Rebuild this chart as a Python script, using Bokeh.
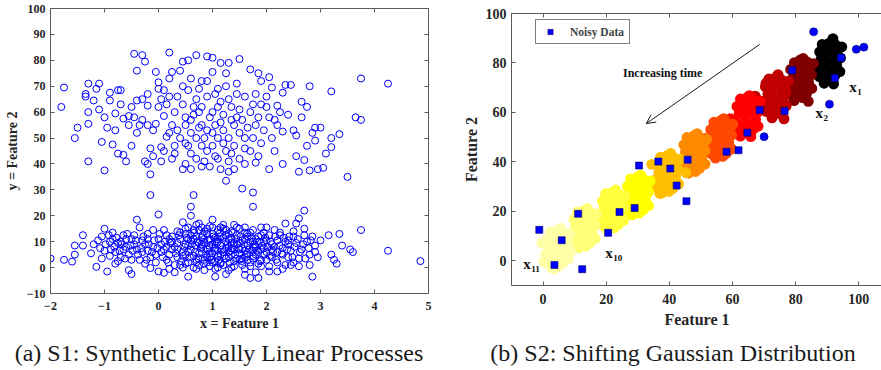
from bokeh.plotting import figure
from bokeh.models import LinearAxis, FixedTicker, Range1d, Arrow, OpenHead, Label, Legend, LegendItem, ColumnDataSource, Div
from bokeh.layouts import row, column
from bokeh.embed import file_html
from bokeh.resources import INLINE
from bokeh.core.properties import value

# ---------------- Panel (a) data ----------------
upper_pts = [
    (-1.8, 62), (-1.75, 69.5), (-1.55, 50), (-1.5, 54), (-1.35, 67), (-1.35, 66), (-1.3, 71), (-1.3, 60), (-1.3, 55.5), (-1.3, 41),
    (-1.2, 64.5), (-1.15, 69), (-1.1, 71), (-1.1, 61), (-1.05, 48.5), (-1.0, 58), (-1.0, 37.5), (-0.95, 54), (-0.9, 64.5), (-0.9, 67.5),
    (-0.85, 47.5), (-0.8, 59.5), (-0.8, 53), (-0.75, 68.5), (-0.7, 68.5), (-0.75, 44), (-0.7, 63), (-0.65, 43.5), (-0.65, 57.5), (-0.6, 41),
    (-0.55, 55), (-0.55, 58.5), (-0.5, 47), (-0.5, 62), (-0.45, 82.5), (-0.4, 76), (-0.4, 52), (-0.4, 64.5), (-0.35, 55), (-0.3, 82),
    (-0.25, 79.5), (-0.3, 65), (-0.3, 57), (-0.25, 41), (-0.2, 67), (-0.2, 62.5), (-0.2, 40), (-0.15, 36), (-0.15, 28), (-0.15, 46),
    (-0.1, 53), (-0.1, 43), (-0.05, 75.5), (-0.05, 55.5), (0.0, 71.5), (0.0, 69), (0.0, 62), (0.05, 65), (0.05, 46.5), (0.05, 41),
    (0.1, 58.5), (0.1, 68.5), (0.15, 63), (0.15, 50.5), (0.2, 83), (0.2, 73), (0.2, 66), (0.25, 75.5), (0.25, 55), (0.25, 42),
    (0.3, 60), (0.3, 47), (0.35, 53), (0.4, 76), (0.45, 79.5), (0.45, 70), (0.45, 63), (0.5, 55), (0.5, 48), (0.5, 40),
    (0.55, 80), (0.55, 68.5), (0.6, 73), (0.6, 52), (0.6, 44), (0.6, 38), (0.7, 82), (0.7, 65), (0.75, 60), (0.75, 54),
    (0.8, 72), (0.8, 47), (0.85, 41), (0.9, 81.5), (0.9, 72), (0.9, 66), (0.95, 58), (1.0, 81), (1.0, 75.5), (1.0, 52),
    (1.05, 43), (1.1, 69), (1.1, 62), (1.15, 79), (1.15, 56), (1.2, 48), (1.25, 75), (1.25, 33.5), (1.3, 79), (1.3, 65),
    (1.35, 57), (1.35, 44), (1.4, 38), (1.45, 71), (1.5, 80.5), (1.5, 61), (1.5, 52), (1.55, 30.5), (1.6, 66), (1.6, 46),
    (1.7, 76.5), (1.75, 29), (1.75, 63), (1.8, 55), (1.8, 40.5), (1.85, 75), (1.9, 72), (1.9, 48), (2.0, 66), (2.05, 73.5),
    (2.05, 58), (2.05, 38), (2.1, 69.5), (2.15, 45), (2.2, 62.5), (2.2, 55), (2.3, 67.5), (2.3, 52.5), (2.3, 40), (2.35, 70.5),
    (2.4, 59), (2.45, 70.5), (2.5, 53), (2.55, 43), (2.55, 51), (2.6, 37), (2.65, 64), (2.65, 58), (2.7, 41.5), (2.75, 62),
    (2.75, 47), (2.8, 70), (2.8, 37.5), (2.85, 52), (2.9, 54), (2.9, 49), (2.95, 38), (3.0, 54), (3.05, 38.5), (3.1, 44),
    (3.2, 68), (3.2, 50), (3.2, 46.5), (3.35, 51.5), (3.5, 35), (3.65, 58), (3.75, 57), (3.75, 73), (4.25, 71), (0.65, 28),
    (0.5, 58), (0.6, 57), (0.7, 50), (0.7, 42), (0.8, 55), (0.8, 62), (0.85, 50), (0.9, 45), (0.9, 53), (1.0, 60),
    (1.0, 47), (1.05, 55), (1.1, 50), (1.1, 42), (1.15, 64), (1.2, 53), (1.2, 59), (1.25, 45), (1.3, 50), (1.3, 41),
    (1.35, 62), (1.4, 55), (1.4, 47), (1.45, 67), (1.5, 42), (1.55, 57), (1.6, 50), (1.65, 54), (1.7, 60), (1.7, 45),
    (1.75, 50), (1.8, 67), (1.85, 58), (1.95, 53), (2.0, 62), (2.1, 50), (2.15, 57), (0.4, 50), (0.35, 66), (0.3, 44),
    (0.65, 62), (0.55, 47), (0.95, 39), (1.15, 38), (1.3, 37), (1.6, 40), (0.45, 38), (0.8, 39), (1.05, 67), (1.25, 70),
    (0.75, 69), (0.65, 59), (1.45, 58), (0.2, 52), (1.9, 63), (2.25, 60), (0.1, 45), (-0.2, 55), (-0.45, 58), (1.85, 43),
]

lower_pts = [
    (-2.0, 3.5), (-1.75, 3), (-1.6, 2.3), (-1.55, 8.5), (-1.55, 5), (-1.4, 12.5), (-1.4, 8.5), (-1.25, 5.5), (-1.15, 0.3), (-1.0, 15),
    (-1.05, 12), (-1.0, 6.5), (-1.05, 3.5), (-0.95, -1.5), (-0.9, 10), (-0.85, 13.5), (-0.8, 1.5), (-0.75, 9.5), (-0.7, 4), (-0.65, 7),
    (-0.6, 11), (-0.55, -1), (-0.5, 3), (-0.5, -2.5), (-0.45, 12.5), (-0.4, 18.5), (-0.35, 15.5), (-0.3, 6), (-0.25, 1.5), (-0.2, 11),
    (-0.15, -0.2), (-0.1, 14.5), (-0.05, 5), (0.0, 20.5), (0.0, -1.5), (0.05, 9), (0.1, -2), (0.1, 14.5), (0.15, 3), (0.2, 11),
    (0.25, 7), (0.3, -1.8), (0.35, 14), (0.4, 1), (0.45, 17.5), (0.5, 5), (0.55, -3.5), (0.55, 11), (0.6, 23.5), (0.6, 20),
    (0.65, 14.5), (0.7, 2), (0.75, 17), (0.8, 9), (0.85, -1), (0.9, 13), (0.95, 4), (1.0, 18.5), (1.05, -3.5), (1.1, 11),
    (1.15, 1.5), (1.2, 16.5), (1.25, -2.5), (1.3, 6), (1.35, 14), (1.4, 0.5), (1.45, 9), (1.5, 15), (1.55, 3.5), (1.6, -2.8),
    (1.65, 12), (1.7, -4), (1.75, 23.5), (1.75, 6.5), (1.8, -1.8), (1.85, -4), (1.9, 12.5), (2.0, 15.5), (2.0, 3), (2.05, -1.5),
    (2.1, 9), (2.2, -1.5), (2.25, 12.5), (2.3, 5), (2.35, 17), (2.4, 9), (2.45, 1), (2.5, 12), (2.55, 17), (2.6, 0.5),
    (2.6, 19), (2.65, 7), (2.7, 22), (2.7, 15), (2.75, 10), (2.8, 1), (2.8, 5), (2.85, -3.5), (2.85, 12), (2.9, 8.5),
    (2.95, 4), (3.0, 10.5), (3.15, 12.5), (3.2, 5), (3.25, 3), (3.3, 1.5), (3.35, 13), (3.4, 8.5), (3.55, 7), (3.6, 6),
    (3.75, 14.5), (4.25, 6.5), (4.85, 2.5),
    (0.3, 8), (0.35, 4), (0.4, 11), (0.45, 6), (0.5, 9), (0.5, 13), (0.55, 2), (0.6, 7), (0.6, 10.5), (0.65, 4.5),
    (0.7, 12), (0.7, 8.5), (0.75, 5.5), (0.75, 1), (0.8, 11.5), (0.8, 6), (0.85, 3), (0.85, 9.5), (0.9, 7), (0.9, 15),
    (0.95, 11), (0.95, 0.5), (1.0, 5.5), (1.0, 9), (1.0, 13), (1.05, 7.5), (1.05, 2.5), (1.1, 4.5), (1.1, 14.5), (1.15, 8.5),
    (1.15, 12), (1.2, 6), (1.2, 1), (1.25, 10), (1.25, 3.5), (1.3, 8), (1.3, 13), (1.35, 5), (1.35, 11), (1.4, 7),
    (1.4, 2.5), (1.45, 12.5), (1.5, 5.5), (1.5, 9.5), (1.55, 7.5), (1.55, 1), (1.6, 11), (1.6, 4), (1.65, 8.5), (1.7, 13.5),
    (1.7, 2), (1.75, 10), (1.8, 5), (1.8, 8), (1.85, 12), (1.9, 3), (1.9, 7), (1.95, 10), (2.0, 6), (2.05, 12.5),
    (2.1, 4), (2.15, 8), (2.2, 10.5), (2.2, 2), (2.3, 7.5), (2.35, 10), (2.4, 4), (0.2, 5), (0.25, 12), (0.15, 8),
    (0.05, 6), (0.0, 11), (-0.1, 8), (-0.15, 4), (-0.2, 13), (-0.25, 9), (-0.3, 10.5), (-0.35, 3), (-0.4, 7), (-0.45, 9),
    (-0.55, 5), (-0.6, 8), (-0.65, 12.5), (-0.7, 10), (-0.8, 6), (-0.85, 11), (-0.9, 4.5), (0.55, 15.5), (0.65, 0), (0.95, 16),
    (1.15, 15.5), (1.45, 15.5), (1.35, 0), (1.05, -0.5), (0.45, 0), (0.85, 14), (1.25, 14.5), (1.75, 14.5), (2.05, 0.5), (2.45, 6.5),
    (2.55, 9.5), (2.6, 3.5), (2.7, 12.5), (2.9, 6), (2.5, 14), (1.6, 6.5), (1.3, 4), (0.7, 3), (0.4, 13.5), (1.95, 13.5),
    (1.85, 1.5), (0.3, 1), (0.9, 4), (1.1, 10), (1.5, 3), (0.6, 12.5), (1.2, 11.5), (1.4, 9.5), (0.8, 8), (1.0, 2),
    (1.65, 5.5), (1.75, 3.5), (2.25, 13.5), (2.35, 1), (0.35, 9.5), (0.15, 12.5), (-0.05, 2), (0.1, 7), (-0.2, 6.5), (-0.5, 11),
    (-0.75, 2.5), (0.95, 7.5), (1.35, 7.5), (0.55, 6), (1.15, 5), (1.8, 11), (2.1, 7), (0.75, 14.5), (1.05, 11.5),
    (0.32, 5.5), (0.38, 12.5), (0.42, 2.5), (0.48, 8), (0.52, 11.5), (0.58, 4), (0.62, 9), (0.66, 13.5), (0.68, 6), (0.72, 10),
    (0.74, 3.5), (0.78, 7.5), (0.82, 12.5), (0.84, 1.5), (0.88, 5), (0.92, 10.5), (0.94, 8.5), (0.98, 3), (1.02, 12), (1.04, 6.5),
    (1.08, 9.5), (1.12, 3), (1.14, 13.5), (1.18, 7), (1.22, 4.5), (1.24, 12.5), (1.28, 9), (1.32, 2), (1.34, 6.5), (1.38, 13.5),
    (1.42, 5), (1.44, 11), (1.48, 7.5), (1.52, 12), (1.54, 2.5), (1.58, 9), (1.62, 5), (1.64, 13), (1.68, 7), (1.72, 11.5),
    (1.76, 4.5), (1.78, 9), (1.82, 6.5), (1.86, 10), (1.88, 2.5), (1.92, 8.5), (1.96, 5), (1.98, 11.5), (2.02, 8), (2.06, 4.5),
    (2.08, 10), (2.12, 6), (2.16, 12), (2.18, 3), (2.24, 8.5), (2.28, 5.5), (2.32, 11.5), (2.38, 7), (2.42, 12), (2.48, 4),
    (2.52, 8), (2.58, 11), (2.62, 6), (2.68, 9), (2.72, 3.5), (2.78, 7.5), (2.82, 10.5), (0.22, 9.5), (0.18, 2), (0.12, 10),
    (0.08, 4), (0.02, 13), (-0.02, 7.5), (-0.08, 10.5), (-0.12, 6), (-0.18, 9), (-0.22, 3), (-0.28, 12), (-0.32, 7.5), (-0.38, 5),
    (-0.42, 10.5), (-0.48, 6.5), (-0.52, 8.5), (-0.58, 13), (-0.62, 3.5), (-0.68, 9), (-0.72, 6.5), (-0.78, 11.5), (-0.82, 8), (-0.88, 7),
    (-0.92, 12.5), (-0.98, 9), (-1.08, 7.5), (-1.12, 10.5), (-1.2, 9), (0.55, 8.5), (0.65, 11), (0.85, 11), (0.95, 5.5), (1.05, 10),
    (1.15, 2), (1.25, 7.5), (1.35, 9.5), (1.45, 3.5), (1.55, 10.5), (1.65, 3), (1.75, 8), (1.85, 6), (1.95, 7.5), (0.75, 9.5),
    (0.45, 4.5), (1.1, 6.5), (1.3, 11), (1.5, 7), (1.7, 10), (0.9, 2), (1.6, 13.5), (2.0, 10.5), (0.35, 7), (0.25, 10),
    (2.2, 6), (2.4, 10.5), (1.2, 15), (0.8, 15.5), (1.6, 15.5), (2.15, 14.5), (0.5, 15), (1.0, 15.5), (1.4, 16.5), (0.7, 16.5),
    (1.9, 15.5), (1.3, -1), (0.7, -0.5), (1.6, -0.5), (2.3, -0.5), (0.2, -0.5), (1.1, 0), (1.9, 0.5), (0.5, 1.5), (1.7, 0.5),
    (2.5, 2),
]
upper_x = [p[0] for p in upper_pts]
upper_y = [p[1] for p in upper_pts]
lower_x = [p[0] for p in lower_pts]
lower_y = [p[1] for p in lower_pts]

a_xticks = [-2, -1, 0, 1, 2, 3, 4, 5]
a_yticks = [-10, 0, 10, 20, 30, 40, 50, 60, 70, 80, 90, 100]

# ---------------- Panel (b) data ----------------
s1_x = [87.5, 89, 91, 92.5, 94, 87, 89.2, 91, 93, 88, 90, 92.3, 94.2, 87.6, 89.5, 91.6, 93.4, 88.4, 90.6, 92.5, 90, 91.8, 86.8, 94.6, 92, 89]
s1_y = [74.5, 73, 73.5, 75, 76.5, 78.5, 77.5, 77, 79, 81.5, 80.5, 81.5, 82, 84.5, 84, 85, 85.5, 87.5, 88, 87.5, 75.5, 89.8, 75.5, 86.5, 71.5, 71.8]
s2_x = [78.6, 80.1, 82.2, 83.5, 85.1, 78.1, 80, 81.9, 84.1, 79.2, 81, 83.1, 85, 78.4, 80.6, 82.6, 84.4, 79.6, 81.4, 83.6, 81.2, 82.4, 77.3, 85.6, 79.5, 84]
s2_y = [67.4, 66.2, 66, 67.8, 69.7, 71.4, 70.1, 70.3, 72.1, 74.1, 73.6, 74.4, 75.2, 77.4, 77.2, 77.8, 78.2, 80.1, 81.2, 80.4, 68.6, 81.8, 68.1, 79.7, 64.8, 64.5]
s3_x = [70.6, 72.2, 74.1, 75.6, 77, 70.2, 72.1, 74.1, 76.1, 71.2, 73, 75.3, 76.9, 70.4, 72.7, 74.5, 76.8, 71.5, 73.7, 75.4, 73.1, 74.4, 69.4, 77.7, 67.2, 76.3, 70.6, 72.5]
s3_y = [60.4, 59.3, 59.6, 61.1, 62.6, 64.7, 63.4, 63.1, 65.1, 67.4, 66.7, 67.4, 68.1, 70.4, 70.3, 70.9, 71.3, 73.5, 74.1, 73.3, 61.7, 75.3, 61.4, 72.6, 66.6, 57.4, 71.8, 57.8]
s4_x = [61.8, 62.9, 65.3, 66.5, 68.1, 60.9, 63.2, 64.9, 67.3, 62.1, 64.1, 66.2, 68, 61.4, 63.6, 65.5, 67.7, 62.5, 64.7, 66.4, 64.1, 65.3, 60.5, 68.7, 59.3, 65.8, 62.5]
s4_y = [52.5, 51.1, 51.4, 53.1, 54.4, 56.6, 55.2, 55.1, 57.1, 59.7, 58.4, 59.6, 60.1, 62.4, 62.1, 62.9, 63.2, 65.4, 66.1, 65.3, 53.6, 66.8, 53.4, 64.6, 57.5, 50.2, 50.4]
s5_x = [53.3, 54.6, 56.9, 58.1, 59.8, 52.6, 54.7, 56.6, 58.8, 53.5, 55.8, 57.6, 59.7, 53.1, 55.3, 57.1, 59.3, 54.1, 56.3, 58.1, 55.6, 57.2, 52.3, 60.1, 51.2]
s5_y = [43.3, 41.5, 42.2, 43.5, 45.2, 47, 46.2, 45.5, 47.7, 50, 49.2, 50, 50.7, 53, 52.7, 53.5, 53.7, 56, 56.7, 56, 44.2, 57.5, 44, 55.2, 49.5]
s6_x = [44.8, 46.1, 48.3, 49.6, 51.3, 44.1, 46.3, 48.1, 50.3, 45.1, 47.3, 49.1, 51.3, 44.6, 46.8, 48.6, 50.8, 45.6, 47.8, 49.6, 47.1, 48.8, 43.6, 51.8]
s6_y = [37.1, 35.4, 36.1, 37.4, 39.1, 40.9, 40.1, 39.4, 41.6, 43.9, 43.1, 43.9, 44.6, 46.9, 46.6, 47.4, 47.6, 49.9, 50.6, 49.9, 38.1, 51.4, 37.9, 49.1]
s7_x = [36.4, 37.7, 39.9, 41.2, 42.9, 35.7, 37.9, 39.7, 41.9, 36.7, 38.9, 40.7, 42.9, 36.2, 38.4, 40.2, 42.4, 37.2, 39.4, 41.2, 38.7, 40.4, 35.2, 43.4, 34.4, 37, 39, 45.2]
s7_y = [29.1, 27.4, 28.1, 29.4, 31.1, 32.9, 32.1, 31.4, 33.6, 35.9, 35.1, 35.9, 36.6, 38.9, 38.6, 39.4, 39.6, 41.9, 42.6, 41.9, 30.1, 43.4, 29.9, 41.1, 39, 27.2, 28.3, 35.6]
s8_x = [26.9, 28.2, 30.4, 31.7, 33.4, 26.2, 28.4, 30.2, 32.4, 27.2, 29.4, 31.2, 33.4, 26.7, 28.9, 30.7, 32.9, 27.7, 29.9, 31.7, 29.2, 30.9, 25.7, 33.9]
s8_y = [20.3, 18.6, 19.3, 20.6, 22.3, 24.1, 23.3, 22.6, 24.8, 27.1, 26.3, 27.1, 27.8, 30.1, 29.8, 30.6, 30.8, 33.1, 33.8, 33.1, 21.3, 34.6, 21.1, 32.3]
s9_x = [19, 20.3, 22.5, 23.8, 25.5, 18.3, 20.5, 22.3, 24.5, 19.3, 21.5, 23.3, 25.5, 18.8, 21, 22.8, 25, 19.8, 22, 23.8, 21.3, 23, 17.8, 26]
s9_y = [14.3, 12.6, 13.3, 14.6, 16.3, 18.1, 17.3, 16.6, 18.8, 21.1, 20.3, 21.1, 21.8, 24.1, 23.8, 24.6, 24.8, 27.1, 27.8, 27.1, 15.3, 28.6, 15.1, 26.3]
s10_x = [10, 11.3, 13.5, 14.8, 16.5, 9.3, 11.5, 13.3, 15.5, 10.3, 12.5, 14.3, 16.5, 9.8, 12, 13.8, 16, 10.8, 13, 14.8, 12.3, 14, 8.8, 17]
s10_y = [6.9, 5.2, 5.9, 7.2, 8.9, 10.7, 9.9, 9.2, 11.4, 13.7, 12.9, 13.7, 14.4, 16.7, 16.4, 17.2, 17.4, 19.7, 20.4, 19.7, 7.9, 21.2, 7.7, 18.9]
s11_x = [1.5, 2.8, 5, 6.3, 8, 0.8, 3, 4.8, 7, 1.8, 4, 5.8, 8, 1.3, 3.5, 5.3, 7.5, 2.3, 4.5, 6.3, 3.8, 5.5, 0.3, 8.5, 3.6, -0.4, 8.7]
s11_y = [-1.2, -2.9, -2.2, -0.9, 0.8, 2.6, 1.8, 1.1, 3.3, 5.6, 4.8, 5.6, 6.3, 8.6, 8.3, 9.1, 9.3, 11.6, 12.3, 11.6, -0.2, 13.1, -0.4, 10.8, -3.3, 7.2, 3.8]
cluster_colors = ["#000000", "#800000", "#c00000", "#ff0000", "#ff4800", "#ff8a00", "#ffbf00",
                  "#ffff00", "#ffff3c", "#ffff78", "#ffffa8"]

noise_sq_x = [94.4, 92.4, 78.9, 68.6, 76.5, 64.7, 58.1, 61.9, 45.8, 36.5, 30.4, 40.3, 42.3, 45.4,
              29.0, 24.2, 11.1, 20.6, -1.2, 5.9, 3.6, 12.4]
noise_sq_y = [82.1, 73.9, 77.0, 61.0, 60.6, 51.8, 44.1, 44.7, 40.9, 40.1, 38.5, 37.3, 30.4, 24.1,
              21.3, 19.7, 19.0, 11.3, 12.5, 8.3, -1.7, -3.4]
noise_dot_x = [85.7, 99.2, 101.6, 90.7, 70.0]
noise_dot_y = [92.6, 85.5, 86.4, 63.3, 50.2]

name_x = [97.0, 86.3, 19.7, -6.3]
name_y = [70.3, 59.9, 3.1, -1.3]
name_sub = ["1", "2", "10", "11"]

b_ticks = [0, 20, 40, 60, 80, 100]

caption_a = "(a) S1: Synthetic Locally Linear Processes"
caption_b = "(b) S2: Shifting Gaussian Distribution"

SERIF = "Liberation Serif"
AX = "#5a5a5a"
TK = "#262626"


def style_axis(ax, size, show_labels=True):
    ax.axis_line_color = AX
    ax.major_tick_line_color = AX
    ax.minor_tick_line_color = None
    ax.major_tick_in = 4
    ax.major_tick_out = 0
    ax.major_label_text_font = SERIF
    ax.major_label_text_font_style = "bold"
    ax.major_label_text_font_size = size
    ax.major_label_text_color = TK
    ax.axis_label_text_font = SERIF
    ax.axis_label_text_font_style = "bold"
    ax.axis_label_text_color = TK
    if not show_labels:
        ax.major_label_text_font_size = "0px"
        ax.major_label_text_color = None
        ax.major_label_standoff = 0


# ---------------- Panel (a) ----------------
p1 = figure(width=440, height=348, output_backend="svg", toolbar_location=None,
            x_range=Range1d(-2, 5), y_range=Range1d(-10, 100),
            min_border_left=54, min_border_right=8, min_border_top=16, min_border_bottom=47,
            x_axis_label="x = Feature 1", y_axis_label="y = Feature 2")
p1.outline_line_color = None
p1.grid.visible = False
p1.xaxis.ticker = FixedTicker(ticks=a_xticks)
p1.yaxis.ticker = FixedTicker(ticks=a_yticks)
for ax in p1.xaxis + p1.yaxis:
    style_axis(ax, "12px")
p1.xaxis.axis_label_text_font_size = "14px"
p1.yaxis.axis_label_text_font_size = "14px"
p1.xaxis.major_label_standoff = 8
p1.xaxis.axis_label_standoff = 3
p1.yaxis.major_label_standoff = 5
p1.yaxis.axis_label_standoff = 4
top1 = LinearAxis(ticker=FixedTicker(ticks=a_xticks))
right1 = LinearAxis(ticker=FixedTicker(ticks=a_yticks))
style_axis(top1, "12px", False)
style_axis(right1, "12px", False)
p1.add_layout(top1, "above")
p1.add_layout(right1, "right")

p1.scatter(upper_x, upper_y, marker="circle", size=7, fill_color=None, line_color="#0000ff", line_width=1)
p1.scatter(lower_x, lower_y, marker="circle", size=7, fill_color=None, line_color="#0000ff", line_width=1)

# ---------------- Panel (b) ----------------
p2 = figure(width=446, height=348, output_backend="svg", toolbar_location=None,
            x_range=Range1d(-10, 107.5), y_range=Range1d(-10, 100),
            min_border_left=75, min_border_right=0, min_border_top=21, min_border_bottom=55,
            x_axis_label="Feature 1", y_axis_label="Feature 2")
p2.outline_line_color = None
p2.grid.visible = False
p2.xaxis.ticker = FixedTicker(ticks=b_ticks)
p2.yaxis.ticker = FixedTicker(ticks=b_ticks)
for ax in p2.xaxis + p2.yaxis:
    style_axis(ax, "14px")
p2.xaxis.axis_label_text_font_size = "16px"
p2.yaxis.axis_label_text_font_size = "16px"
p2.xaxis.major_label_standoff = 8
p2.xaxis.axis_label_standoff = 4
p2.yaxis.major_label_standoff = 5
p2.yaxis.axis_label_standoff = 3
top2 = LinearAxis(ticker=FixedTicker(ticks=b_ticks))
style_axis(top2, "12px", False)
p2.add_layout(top2, "above")

clusters = [(s1_x, s1_y), (s2_x, s2_y), (s3_x, s3_y), (s4_x, s4_y), (s5_x, s5_y), (s6_x, s6_y),
            (s7_x, s7_y), (s8_x, s8_y), (s9_x, s9_y), (s10_x, s10_y), (s11_x, s11_y)]
for (cx, cy), col in zip(clusters, cluster_colors):
    p2.scatter(cx, cy, marker="circle", size=8.5, fill_color=col, line_color=col, line_width=2.4)

sq = p2.scatter(noise_sq_x, noise_sq_y, marker="square", size=7, fill_color="#0000ff",
                line_color="#00006a", line_width=0.6)
p2.scatter(noise_dot_x, noise_dot_y, marker="circle", size=8, fill_color="#0000ff",
           line_color="#00006a", line_width=0.6)

p2.add_layout(Arrow(end=OpenHead(size=9, line_width=1, line_color="#1a1a1a"),
                    x_start=68.6, y_start=87.5, x_end=32.7, y_end=55.5,
                    line_color="#1a1a1a", line_width=1))
p2.add_layout(Label(x=25.3, y=76, text="Increasing time", text_font=SERIF, text_font_style="bold",
                    text_font_size="12px", text_baseline="middle", text_align="left", text_color="#111111"))

nsrc = ColumnDataSource(dict(x=name_x, y=name_y, main=["x"] * len(name_x), sub=name_sub))
p2.text(x="x", y="y", text="main", source=nsrc, text_font=value(SERIF), text_font_style="bold",
        text_font_size="15px", text_baseline="middle", text_align="left", text_color="#111111")
p2.text(x="x", y="y", text="sub", source=nsrc, text_font=value(SERIF), text_font_style="bold",
        text_font_size="9px", text_baseline="middle", text_align="left", text_color="#111111",
        x_offset=8, y_offset=5)

legend = Legend(items=[LegendItem(label="Noisy Data", renderers=[sq])], location=(24, 241),
                padding=5, margin=0, spacing=0, glyph_width=18, glyph_height=13, label_height=13,
                label_standoff=11, border_line_color="#000000", border_line_width=1,
                label_text_font=SERIF, label_text_font_style="bold", label_text_font_size="11.5px",
                background_fill_color="white", background_fill_alpha=1)
p2.add_layout(legend)

cap_css = ("font-family:'Liberation Serif';font-size:24px;line-height:22px;color:#1a1a1a;"
           "white-space:nowrap;text-align:center;position:relative;top:-3px;")
d1 = Div(text=f'<div style="{cap_css}width:436px;">{caption_a}</div>', width=440, height=22)
d2 = Div(text=f'<div style="{cap_css}width:444px;">{caption_b}</div>', width=446, height=22)

layout = column(row(column(p1), column(p2)), row(d1, d2),
                styles={"margin-left": "-4px", "margin-top": "-8px"})

open("out.html", "w").write(file_html(layout, INLINE))
